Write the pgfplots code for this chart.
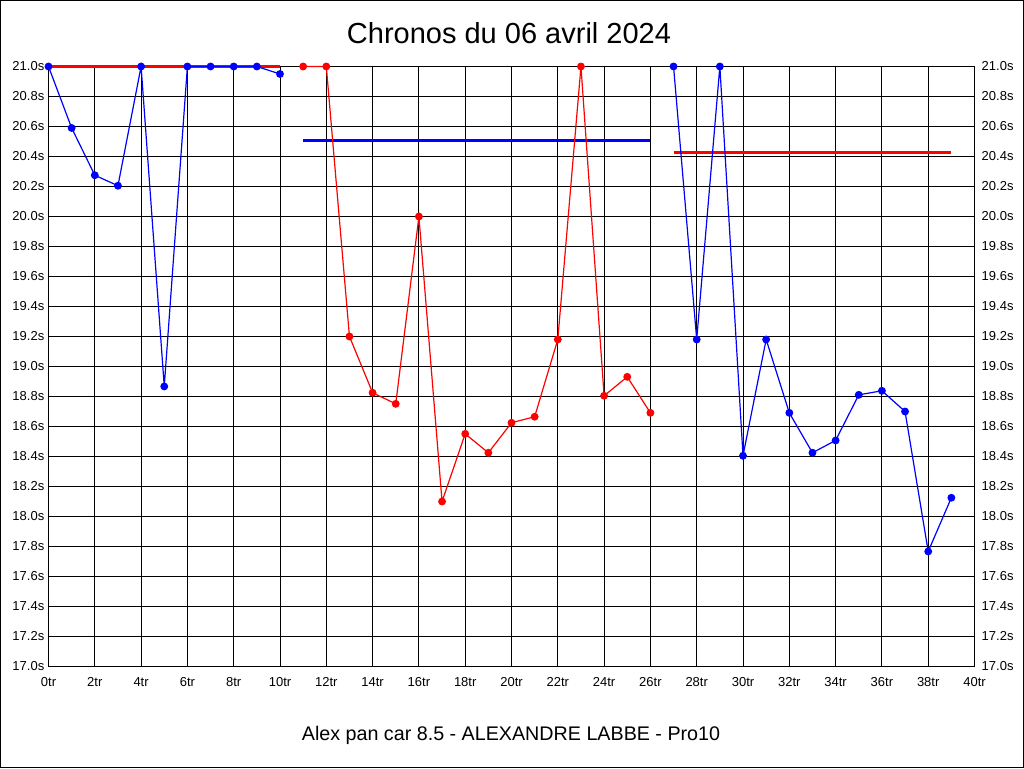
\documentclass[border=0pt]{standalone}
\usepackage{fontspec}
\setmainfont{Liberation Sans}
\usepackage{pgfplots}
\pgfplotsset{compat=1.18}
\definecolor{pblue}{RGB}{0,0,255}
\definecolor{pred}{RGB}{255,0,0}
\pgfplotsset{
  base/.style={
    at={(48.5pt,101.5pt)}, anchor=south west,
    width=926pt, height=600pt, scale only axis,
    xmin=0, xmax=40, ymin=17, ymax=21,
    xtick={0,2,...,40},
    ytick={17.0,17.2,17.4,17.6,17.8,18.0,18.2,18.4,18.6,18.8,19.0,19.2,19.4,19.6,19.8,20.0,20.2,20.4,20.6,20.8,21.0},
    tick style={draw=none},
    /pgf/number format/assume math mode=true,
    yticklabel={\pgfmathprintnumber[fixed,fixed zerofill,precision=1]{\tick}s},
    ticklabel style={font=\fontsize{13}{13}\selectfont, inner sep=0pt},
    clip=false,
  }
}
\begin{document}
\begin{tikzpicture}
\useasboundingbox (0pt,0pt) rectangle (1024pt,768pt);
\draw[line width=1pt] (0.5pt,0.5pt) rectangle (1023.5pt,767.5pt);
\node[font=\fontsize{29}{29}\selectfont] at (509pt,735pt) {Chronos du 06 avril 2024};
\node[font=\fontsize{19.7}{20}\selectfont] at (511pt,33pt) {Alex pan car 8.5 - ALEXANDRE LABBE - Pro10};
\begin{axis}[base,
  yticklabel pos=right,
  xtick=\empty,
  axis line style={draw=none},
  yticklabel style={anchor=west, xshift=7pt},
]
\addplot[draw=none] coordinates {(0,17)};
\end{axis}
\begin{axis}[base,
  grid=major, major grid style={black, line width=1pt},
  axis line style={black, line width=1pt},
  xticklabel={\pgfmathprintnumber{\tick}tr},
  xticklabel style={anchor=north, yshift=-11pt},
  yticklabel style={anchor=east, xshift=-4pt},
]
% segment averages
\addplot[pred, line width=3.5pt] coordinates {(0,21.0) (10,21.0)};
\addplot[pblue, line width=3pt] coordinates {(11,20.505) (26,20.505)};
\addplot[pred, line width=3pt] coordinates {(27,20.425) (39,20.425)};
% laps
\addplot[pblue, line width=1.2pt, mark=*, mark size=3.3pt, mark options={solid}] coordinates {
(0,21.0) (1,20.59) (2,20.275) (3,20.205) (4,21.0) (5,18.867) (6,21.0) (7,21.0) (8,21.0) (9,21.0) (10,20.95)
};
\addplot[pred, line width=1.2pt, mark=*, mark size=3.3pt] coordinates {
(11,21.0) (12,21.0) (13,19.2) (14,18.825) (15,18.751) (16,20.0) (17,18.1) (18,18.551) (19,18.425) (20,18.625) (21,18.665) (22,19.18) (23,21.0) (24,18.805) (25,18.931) (26,18.691)
};
\addplot[pblue, line width=1.2pt, mark=*, mark size=3.3pt] coordinates {
(27,21.0) (28,19.18) (29,21.0) (30,18.405) (31,19.18) (32,18.691) (33,18.425) (34,18.507) (35,18.811) (36,18.838) (37,18.70) (38,17.767) (39,18.125)
};
\end{axis}
\end{tikzpicture}
\end{document}
